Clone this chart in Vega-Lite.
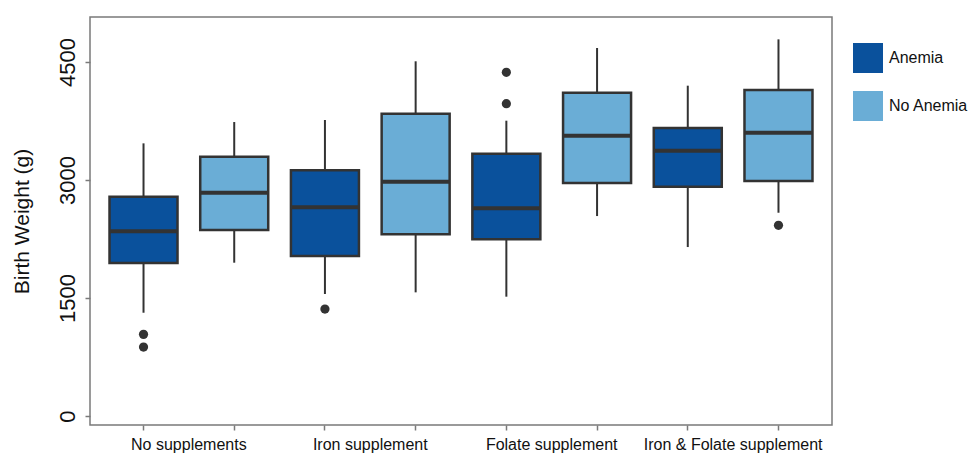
{
  "$schema": "https://vega.github.io/schema/vega-lite/v6.json",
  "width": 742,
  "height": 408,
  "autosize": "none",
  "padding": {"left": 90, "top": 17, "right": 137, "bottom": 28},
  "background": "white",
  "config": {
    "font": "Liberation Sans",
    "view": {"stroke": "#7a7a7a", "strokeWidth": 1.5},
    "axis": {"labelColor": "#111111", "titleColor": "#111111", "tickColor": "#7a7a7a", "tickWidth": 1.5, "tickSize": 5, "domain": false, "grid": false},
    "axisY": {"labelFontSize": 22, "titleFontSize": 21, "titleFontWeight": "normal", "titlePadding": 24, "labelAngle": -90, "labelPadding": 6, "format": "d"}
  },
  "datasets": {
    "boxes": [
      {"box": "No supplements / Anemia", "supplement": "No supplements", "anemia": "Anemia", "lower": 1313, "q1": 1945, "median": 2348, "q3": 2788, "upper": 3466},
      {"box": "No supplements / No Anemia", "supplement": "No supplements", "anemia": "No Anemia", "lower": 1949, "q1": 2364, "median": 2839, "q3": 3296, "upper": 3737},
      {"box": "Iron supplement / Anemia", "supplement": "Iron supplement", "anemia": "Anemia", "lower": 1551, "q1": 2034, "median": 2653, "q3": 3123, "upper": 3763},
      {"box": "Iron supplement / No Anemia", "supplement": "Iron supplement", "anemia": "No Anemia", "lower": 1572, "q1": 2310, "median": 2978, "q3": 3843, "upper": 4509},
      {"box": "Folate supplement / Anemia", "supplement": "Folate supplement", "anemia": "Anemia", "lower": 1517, "q1": 2246, "median": 2640, "q3": 3334, "upper": 3754},
      {"box": "Folate supplement / No Anemia", "supplement": "Folate supplement", "anemia": "No Anemia", "lower": 2542, "q1": 2962, "median": 3563, "q3": 4110, "upper": 4678},
      {"box": "Iron & Folate supplement / Anemia", "supplement": "Iron & Folate supplement", "anemia": "Anemia", "lower": 2148, "q1": 2915, "median": 3372, "q3": 3661, "upper": 4199},
      {"box": "Iron & Folate supplement / No Anemia", "supplement": "Iron & Folate supplement", "anemia": "No Anemia", "lower": 2584, "q1": 2987, "median": 3601, "q3": 4144, "upper": 4788}
    ],
    "outliers": [
      {"box": "No supplements / Anemia", "value": 1038},
      {"box": "No supplements / Anemia", "value": 877},
      {"box": "Iron supplement / Anemia", "value": 1360},
      {"box": "Folate supplement / Anemia", "value": 4369},
      {"box": "Folate supplement / Anemia", "value": 3970},
      {"box": "Iron & Folate supplement / No Anemia", "value": 2424}
    ]
  },
  "encoding": {
    "x": {
      "field": "box", "type": "nominal",
      "scale": {
        "domain": ["No supplements / Anemia", "No supplements / No Anemia", "Iron supplement / Anemia", "Iron supplement / No Anemia", "Folate supplement / Anemia", "Folate supplement / No Anemia", "Iron & Folate supplement / Anemia", "Iron & Folate supplement / No Anemia"],
        "paddingInner": 0.25, "paddingOuter": 0.215
      },
      "axis": {
        "title": null, "labelAngle": 0, "labelFontSize": 16, "labelPadding": 6,
        "labelOffset": 45.35, "labelOverlap": false, "labelBound": false, "labelAlign": "center",
        "labelExpr": "split(datum.value, ' / ')[1] == 'Anemia' ? split(datum.value, ' / ')[0] : ''"
      }
    }
  },
  "layer": [
    {
      "data": {"name": "boxes"},
      "mark": {"type": "rule", "color": "#333333", "strokeWidth": 2},
      "encoding": {
        "y": {"field": "lower", "type": "quantitative",
          "scale": {"domain": [-114, 5072], "nice": false, "zero": false},
          "axis": {"title": "Birth Weight (g)", "values": [0, 1500, 3000, 4500]}},
        "y2": {"field": "upper"}
      }
    },
    {
      "data": {"name": "boxes"},
      "mark": {"type": "bar", "size": 68, "stroke": "#333333", "strokeWidth": 2.5},
      "encoding": {
        "y": {"field": "q1", "type": "quantitative"},
        "y2": {"field": "q3"},
        "fill": {"field": "anemia", "type": "nominal",
          "scale": {"domain": ["Anemia", "No Anemia"], "range": ["#0a519c", "#6aadd6"]},
          "legend": {"title": null, "orient": "none", "legendX": 763, "legendY": 26, "padding": 0,
            "symbolType": "square", "symbolSize": 900, "symbolStrokeWidth": 0, "symbolOpacity": 1,
            "labelFontSize": 16, "labelColor": "#111111", "labelOffset": 6, "rowPadding": 18}}
      }
    },
    {
      "data": {"name": "boxes"},
      "mark": {"type": "tick", "size": 68, "thickness": 4, "color": "#333333", "opacity": 1},
      "encoding": {
        "y": {"field": "median", "type": "quantitative"}
      }
    },
    {
      "data": {"name": "outliers"},
      "mark": {"type": "point", "filled": true, "size": 85, "color": "#333333", "opacity": 1},
      "encoding": {
        "y": {"field": "value", "type": "quantitative"}
      }
    }
  ]
}
